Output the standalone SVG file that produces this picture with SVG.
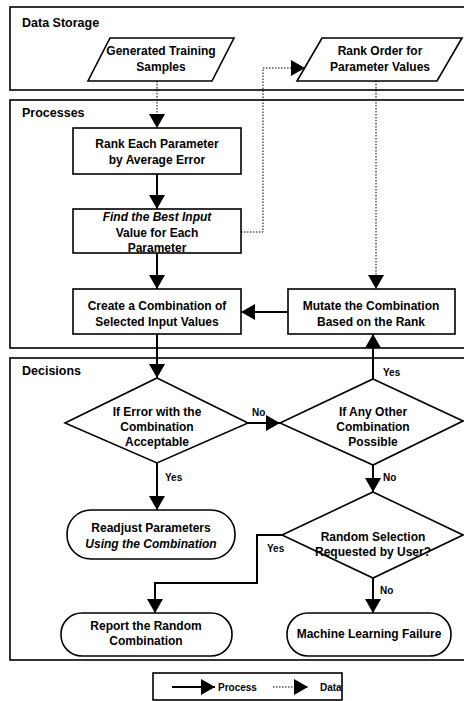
<svg xmlns="http://www.w3.org/2000/svg" width="464" height="701" viewBox="0 0 464 701">
  <style>
    text { font-family: "Liberation Sans", Arial, sans-serif; font-weight: bold; font-size: 12px; fill: #000; }
    .c { text-anchor: middle; }
    .it { font-style: italic; }
    .hd { font-size: 12.5px; }
    .lane { fill: none; stroke: #000; stroke-width: 1.6; }
    .shape { fill: #fff; stroke: #000; stroke-width: 1.6; }
    .proc { fill: none; stroke: #000; stroke-width: 2; marker-end: url(#head); }
    .data { fill: none; stroke: #000; stroke-width: 1; stroke-dasharray: 1.5 1.5; marker-end: url(#head); }
    .lbl { font-size: 10px; }
  </style>
  <defs>
    <marker id="head" markerUnits="userSpaceOnUse" markerWidth="16" markerHeight="18" refX="14" refY="8" orient="auto">
      <path d="M0,0 L14,8 L0,16 Z" fill="#000"/>
    </marker>
  </defs>
  <rect width="464" height="701" fill="#fff"/>

  <!-- swimlanes -->
  <g id="lanes">
    <rect class="lane" x="10" y="7" width="470" height="83"/>
    <text class="hd" x="22" y="27">Data Storage</text>
    <rect class="lane" x="10" y="100" width="470" height="248"/>
    <text class="hd" x="22" y="117">Processes</text>
    <rect class="lane" x="10" y="358" width="470" height="302"/>
    <text class="hd" x="22" y="375">Decisions</text>
  </g>

  <!-- connectors -->
  <g id="connectors">
    <path class="data" d="M157,81 V128"/>
    <path class="data" d="M241,232 H263 V68 H305"/>
    <path class="data" d="M376,81 V289"/>
    <path class="proc" d="M157,174 V209"/>
    <path class="proc" d="M157,253 V289"/>
    <path class="proc" d="M288,312 H241"/>
    <path class="proc" d="M157,334 V378"/>
    <path class="proc" d="M248,423 H280"/>
    <path class="proc" d="M373,379 V334"/>
    <path class="proc" d="M157,463 V510"/>
    <path class="proc" d="M373,465 V492"/>
    <path class="proc" d="M282,535 H257 V583 H155 V613"/>
    <path class="proc" d="M373,578 V613"/>
    <text class="lbl" x="252" y="416">No</text>
    <text class="lbl" x="383" y="376">Yes</text>
    <text class="lbl" x="165" y="481">Yes</text>
    <text class="lbl" x="383" y="481">No</text>
    <text class="lbl" x="267" y="552">Yes</text>
    <text class="lbl" x="380" y="594">No</text>
  </g>

  <!-- data stores -->
  <g id="generated-samples">
    <polygon class="shape" points="110,38 234,38 212,81 88,81"/>
    <text class="c" x="161" y="55">Generated Training</text>
    <text class="c" x="161" y="71">Samples</text>
  </g>
  <g id="rank-order">
    <polygon class="shape" points="322,38 462,38 437,81 297,81"/>
    <text class="c" x="380" y="55">Rank Order for</text>
    <text class="c" x="380" y="71">Parameter Values</text>
  </g>

  <!-- processes -->
  <g id="rank-each">
    <rect class="shape" x="73" y="128" width="168" height="46"/>
    <text class="c" x="157" y="148">Rank Each Parameter</text>
    <text class="c" x="157" y="164">by Average Error</text>
  </g>
  <g id="find-best">
    <rect class="shape" x="73" y="209" width="168" height="44"/>
    <text class="c it" x="157" y="221">Find the Best Input</text>
    <text class="c" x="157" y="237">Value for Each</text>
    <text class="c" x="157" y="252">Parameter</text>
  </g>
  <g id="create-combination">
    <rect class="shape" x="73" y="289" width="168" height="45"/>
    <text class="c" x="157" y="310">Create a Combination of</text>
    <text class="c" x="157" y="326">Selected Input Values</text>
  </g>
  <g id="mutate">
    <rect class="shape" x="288" y="289" width="167" height="45"/>
    <text class="c" x="371" y="310">Mutate the Combination</text>
    <text class="c" x="371" y="326">Based on the Rank</text>
  </g>

  <!-- decisions -->
  <g id="error-acceptable">
    <polygon class="shape" points="157,378 248,423 157,463 65,423"/>
    <text class="c" x="157" y="416">If Error with the</text>
    <text class="c" x="157" y="431">Combination</text>
    <text class="c" x="157" y="446">Acceptable</text>
  </g>
  <g id="other-possible">
    <polygon class="shape" points="373,379 463,421 373,465 280,423"/>
    <text class="c" x="373" y="416">If Any Other</text>
    <text class="c" x="373" y="431">Combination</text>
    <text class="c" x="373" y="446">Possible</text>
  </g>
  <g id="random-selection">
    <polygon class="shape" points="373,492 463,535 373,578 282,535"/>
    <text class="c" x="373" y="541">Random Selection</text>
    <text class="c" x="373" y="556">Requested by User?</text>
  </g>

  <!-- terminals -->
  <g id="readjust">
    <rect class="shape" x="67" y="510" width="168" height="49" rx="24"/>
    <text class="c" x="151" y="532">Readjust Parameters</text>
    <text class="c it" x="151" y="548">Using the Combination</text>
  </g>
  <g id="report-random">
    <rect class="shape" x="61" y="613" width="171" height="43" rx="21"/>
    <text class="c" x="146" y="630">Report the Random</text>
    <text class="c" x="146" y="645">Combination</text>
  </g>
  <g id="ml-failure">
    <rect class="shape" x="287" y="613" width="164" height="43" rx="21"/>
    <text class="c" x="369" y="638">Machine Learning Failure</text>
  </g>

  <!-- legend -->
  <g id="legend">
    <rect class="shape" x="153" y="673" width="189" height="27"/>
    <path class="proc" d="M172,687 H215"/>
    <text class="lbl" x="218" y="691">Process</text>
    <path class="data" d="M273,687 H308"/>
    <text class="lbl" x="320" y="691">Data</text>
  </g>
</svg>
